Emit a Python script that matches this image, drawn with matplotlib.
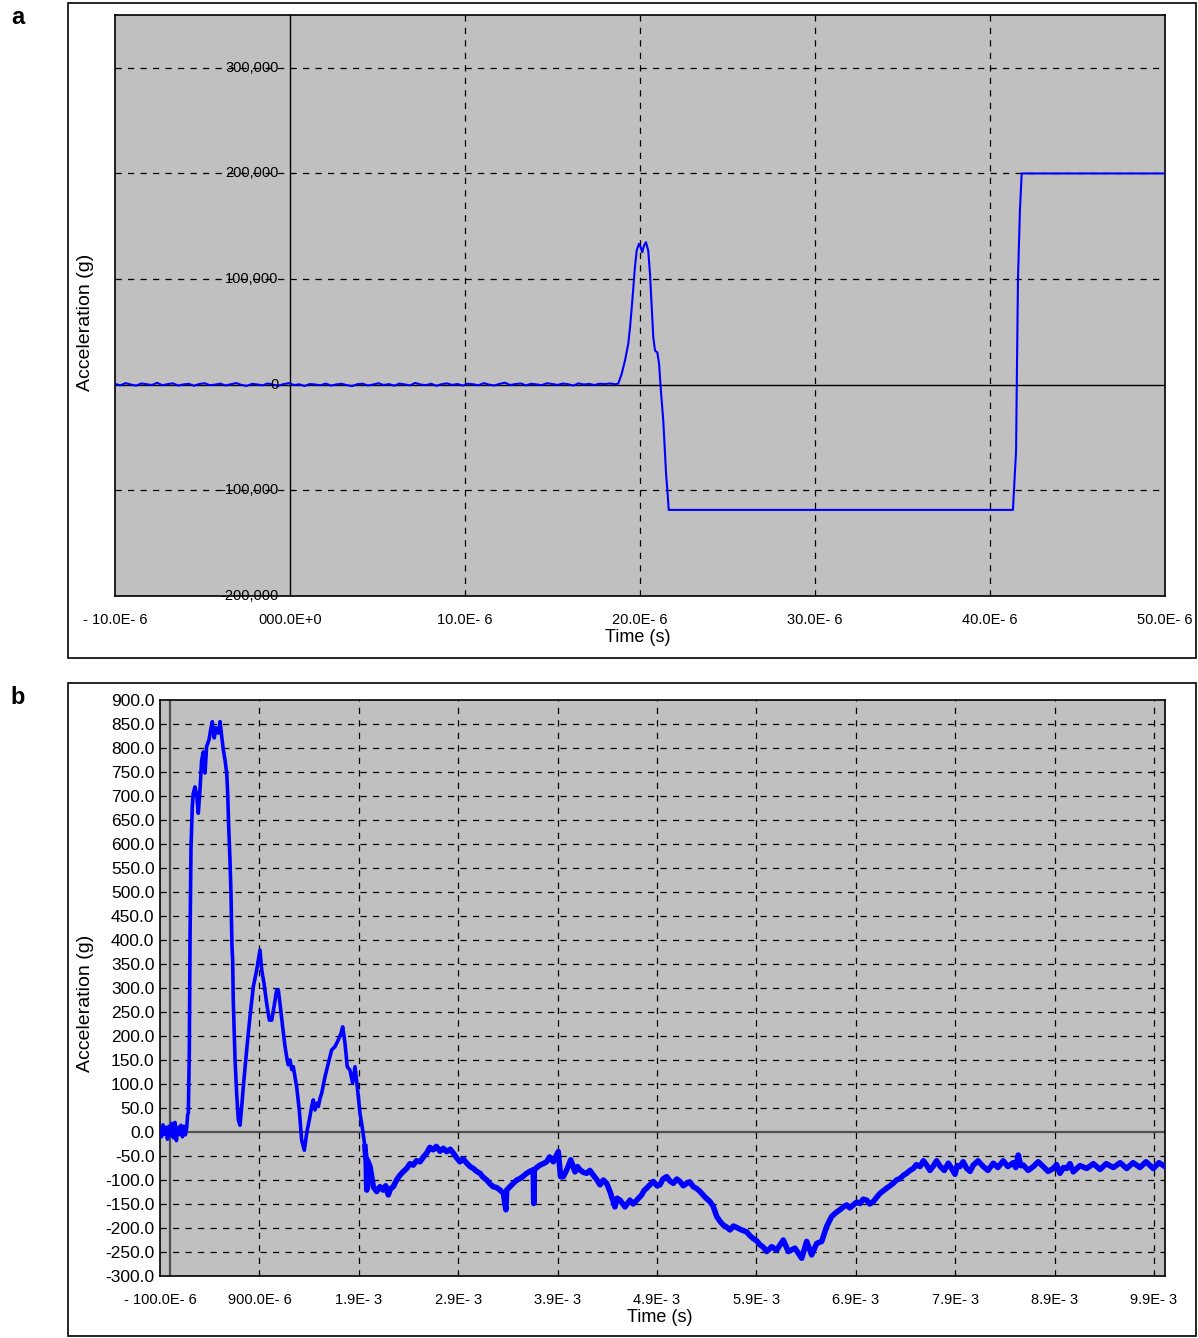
import numpy as np
import matplotlib.pyplot as plt
from matplotlib.patches import Rectangle

plt.rcParams['font.family'] = ['Liberation Sans', 'DejaVu Sans']

# ---------------- panel a data (time in microseconds, acceleration in g)
base_a = [800, -600, 1500, 200, -900, 1200, 400, -300, 1800, -500, 600, 1300, -800, 300,
          900, -1000, 700, 1400, -400, 100, 1000, -700, 500, 1600, -200, -1100, 800, 300,
          -600, 1200, 0, -900, 600, 1500, -300, 400, -1200, 700, 200, -500, 1100, -800,
          300, 900, -400, -1300, 500, 1000, -700, 200, 1400, -300, 600, -900, 1100, 300,
          -600, 1700, 200, -400, 900, -1000, 500, 1300, -200, 700, -800, 1000, 400, -500,
          1500, 100, -700, 800, 1900, -300, 600, 1200, -600, 900, 300, -400, 1400, 700,
          -200, 1100, 500, -800, 1300, 200, 800, -300, 1000, 600, 1200, 400]
pulse_t = [18.76, 18.95, 19.14, 19.33, 19.43, 19.53, 19.62, 19.71, 19.81, 19.94, 20.04,
           20.13, 20.23, 20.34, 20.47, 20.57, 20.67, 20.76, 20.86, 20.99, 21.09, 21.18,
           21.33, 21.43, 21.49, 21.58, 21.64, 41.31, 41.49, 41.53, 41.60, 41.71, 41.81, 50.0]
pulse_a = [1200, 10100, 22700, 38900, 54300, 73300, 92200, 111200, 127000, 133400, 130100,
           125400, 131800, 134900, 127000, 105200, 73300, 44800, 32200, 30600, 19900, -2600,
           -34100, -65400, -84400, -103300, -118500, -118500, -62600, 950, 101400, 164900,
           200000, 200000]
xticks_a = [-10, 0, 10, 20, 30, 40, 50]
xlabels_a = ['- 10.0E- 6', '000.0E+0', '10.0E- 6', '20.0E- 6', '30.0E- 6', '40.0E- 6', '50.0E- 6']
yticks_a = [-200000, -100000, 0, 100000, 200000, 300000]
ylabels_a = ['-200,000', '-100,000', '0', '100,000', '200,000', '300,000']

# ---------------- panel b data (time in milliseconds, acceleration in g)
t_b = [-0.1, -0.085, -0.07, -0.055, -0.04, -0.025, -0.01, 0.005, 0.02, 0.035, 0.05, 0.065,
       0.08, 0.095, 0.11, 0.125, 0.14, 0.155, 0.168, 0.178, 0.185, 0.195, 0.202, 0.212,
       0.225, 0.235, 0.252, 0.269, 0.285, 0.302, 0.319, 0.336, 0.353, 0.369, 0.393, 0.410,
       0.426, 0.446, 0.463, 0.487, 0.504, 0.521, 0.537, 0.554, 0.571, 0.581, 0.591, 0.604,
       0.614, 0.624, 0.631, 0.637, 0.655, 0.671, 0.688, 0.705, 0.722, 0.738, 0.772, 0.805,
       0.839, 0.873, 0.906, 0.923, 0.946, 0.973, 1.0, 1.024, 1.047, 1.074, 1.09, 1.107,
       1.134, 1.158, 1.174, 1.19, 1.208, 1.225, 1.241, 1.275, 1.301, 1.325, 1.352, 1.376,
       1.402, 1.426, 1.442, 1.459, 1.476, 1.493, 1.51, 1.527, 1.56, 1.593, 1.627, 1.661,
       1.694, 1.72, 1.738, 1.761, 1.784, 1.811, 1.838, 1.862, 1.885, 1.912, 1.939, 1.962,
       1.975, 1.98, 1.985, 2.013, 2.046, 2.080, 2.113, 2.146, 2.17, 2.197, 2.22, 2.247,
       2.28, 2.314, 2.35, 2.382, 2.415, 2.448, 2.48, 2.516, 2.55, 2.583, 2.615, 2.649,
       2.68, 2.717, 2.75, 2.784, 2.82, 2.851, 2.885, 2.918, 2.95, 2.986, 3.02, 3.052,
       3.085, 3.119, 3.15, 3.187, 3.22, 3.253, 3.29, 3.321, 3.355, 3.38, 3.388, 3.42,
       3.454, 3.49, 3.522, 3.555, 3.589, 3.62, 3.655, 3.66, 3.665, 3.69, 3.723, 3.755,
       3.790, 3.82, 3.857, 3.907, 3.93, 3.957, 3.992, 4.032, 4.075, 4.1, 4.125, 4.16,
       4.193, 4.225, 4.259, 4.29, 4.327, 4.36, 4.394, 4.427, 4.477, 4.5, 4.528, 4.578,
       4.628, 4.66, 4.696, 4.746, 4.77, 4.796, 4.83, 4.863, 4.9, 4.930, 4.96, 4.997,
       5.03, 5.064, 5.1, 5.131, 5.165, 5.199, 5.23, 5.265, 5.3, 5.333, 5.38, 5.433,
       5.466, 5.501, 5.534, 5.567, 5.6, 5.634, 5.67, 5.702, 5.75, 5.802, 5.835, 5.869,
       5.9, 5.936, 5.97, 6.004, 6.054, 6.104, 6.171, 6.221, 6.288, 6.356, 6.406, 6.456,
       6.507, 6.557, 6.607, 6.657, 6.7, 6.741, 6.775, 6.808, 6.84, 6.875, 6.91, 6.942,
       6.975, 7.010, 7.04, 7.076, 7.11, 7.143, 7.18, 7.211, 7.245, 7.277, 7.31, 7.345,
       7.38, 7.412, 7.445, 7.479, 7.51, 7.546, 7.58, 7.613, 7.646, 7.680, 7.713, 7.747,
       7.79, 7.831, 7.865, 7.898, 7.92, 7.948, 7.98, 8.016, 8.05, 8.082, 8.13, 8.183,
       8.23, 8.283, 8.33, 8.384, 8.43, 8.484, 8.51, 8.535, 8.56, 8.585, 8.635, 8.686,
       8.735, 8.786, 8.835, 8.887, 8.92, 8.954, 8.99, 9.022, 9.055, 9.088, 9.155, 9.223,
       9.29, 9.357, 9.42, 9.491, 9.56, 9.625, 9.69, 9.759, 9.82, 9.893, 9.95, 10.011]
acc_b = [5, -10, 15, -5, 10, -15, 12, -8, 18, -12, 20, -18, 10, -5, 14, -10, 12, -6, 8, 35,
         40, 170, 400, 594, 678, 706, 719, 702, 664, 712, 775, 792, 748, 803, 817, 838,
         855, 821, 842, 831, 855, 824, 796, 775, 748, 706, 636, 567, 498, 386, 358, 275,
         150, 81, 25, 14, 53, 94, 171, 240, 303, 338, 379, 338, 310, 268, 233, 233, 261,
         296, 296, 268, 219, 178, 157, 140, 150, 130, 136, 94, 46, -17, -38, -2, 25, 53, 67,
         46, 60, 53, 70, 81, 115, 143, 171, 178, 192, 205, 219, 185, 136, 129, 102, 136,
         94, 39, 4, -31, -65, -121, -58, -72, -114, -124, -114, -121, -112, -131, -118,
         -114, -100, -90, -82, -76, -66, -69, -60, -62, -52, -44, -32, -37, -30, -40, -34,
         -41, -36, -44, -54, -62, -56, -65, -72, -76, -82, -86, -94, -100, -108, -114,
         -116, -121, -128, -162, -121, -114, -107, -100, -97, -92, -86, -82, -79, -149,
         -79, -74, -69, -66, -62, -52, -62, -41, -93, -93, -79, -58, -83, -72, -79, -84,
         -86, -80, -90, -98, -110, -100, -107, -124, -156, -138, -142, -156, -142, -150,
         -142, -131, -122, -117, -110, -103, -112, -110, -98, -93, -102, -107, -98, -103,
         -112, -107, -104, -114, -118, -124, -135, -145, -155, -176, -186, -194, -198,
         -204, -196, -199, -204, -208, -216, -222, -226, -235, -240, -249, -239, -246,
         -225, -249, -242, -263, -228, -256, -232, -228, -197, -176, -168, -162, -156,
         -152, -158, -152, -146, -149, -140, -142, -150, -145, -136, -128, -122, -117,
         -112, -107, -100, -97, -90, -86, -80, -76, -68, -72, -60, -69, -80, -71, -60,
         -71, -80, -65, -76, -88, -70, -72, -62, -76, -82, -69, -60, -72, -80, -65, -74,
         -60, -72, -64, -74, -48, -70, -69, -80, -72, -62, -72, -82, -76, -68, -86, -74,
         -76, -66, -83, -70, -76, -66, -78, -66, -74, -64, -76, -64, -74, -62, -76, -64, -72]
xticks_b = [-0.1, 0.9, 1.9, 2.9, 3.9, 4.9, 5.9, 6.9, 7.9, 8.9, 9.9]
xlabels_b = ['- 100.0E- 6', '900.0E- 6', '1.9E- 3', '2.9E- 3', '3.9E- 3', '4.9E- 3',
             '5.9E- 3', '6.9E- 3', '7.9E- 3', '8.9E- 3', '9.9E- 3']
yticks_b = list(range(-300, 901, 50))

W, H = 1198, 1338
fig = plt.figure(figsize=(W / 100, H / 100), dpi=100)


def frac(x0, y0, x1, y1):
    return [x0 / W, 1 - y1 / H, (x1 - x0) / W, (y1 - y0) / H]


# outer frames
for y0, y1 in [(3, 658), (683, 1336)]:
    fig.patches.append(Rectangle((68 / W, 1 - y1 / H), (1196 - 68) / W, (y1 - y0) / H,
                                 transform=fig.transFigure, fill=False, lw=1.2,
                                 edgecolor='black'))

fig.text(18 / W, 1 - 18 / H, 'a', fontsize=17, fontweight='bold', ha='center', va='center')
fig.text(18 / W, 1 - 697 / H, 'b', fontsize=17, fontweight='bold', ha='center', va='center')

grid_kw = dict(color='black', lw=0.9, linestyle=(0, (5, 5)), zorder=1)

# ---------------- panel a
ax1 = fig.add_axes(frac(115, 15, 1165, 596))
ax1.set_facecolor('#c0c0c0')
t_a = np.concatenate([np.linspace(-10.0, 18.6, len(base_a)), pulse_t])
a_a = np.concatenate([base_a, pulse_a])
ax1.plot(t_a, a_a, color='#0000ff', lw=1.5, zorder=3)
ax1.set_xlim(-10, 50)
ax1.set_ylim(-200000, 350000)
for x in xticks_a[2:-1]:
    ax1.axvline(x, **grid_kw)
for y in [-100000, 100000, 200000, 300000]:
    ax1.axhline(y, **grid_kw)
ax1.axvline(0, color='black', lw=1, zorder=2)
ax1.axhline(0, color='black', lw=1, zorder=2)
ax1.set_xticks(xticks_a)
ax1.set_xticklabels(xlabels_a, fontsize=10.5)
ax1.set_yticks([])
ax1.tick_params(axis='x', length=0, pad=12)
for y, lab in zip(yticks_a, ylabels_a):
    ax1.text(-0.65, y, lab, ha='right', va='center', fontsize=10.5, zorder=4)
for s in ax1.spines.values():
    s.set_linewidth(1.2)
fig.text(638 / W, 1 - 638 / H, 'Time (s)', fontsize=13, ha='center', va='center')
fig.text(86 / W, 1 - 322 / H, 'Acceleration (g)', fontsize=14, rotation=90,
         ha='center', va='center')

# ---------------- panel b
ax2 = fig.add_axes(frac(160, 700, 1165, 1276))
ax2.set_facecolor('#c0c0c0')
# the signal gets a wider noise band after the first 2 ms
split = t_b.index(1.962)
ax2.plot(t_b[:split + 1], acc_b[:split + 1], color='#0000ff', lw=2.6, zorder=3)
ax2.plot(t_b[split:], acc_b[split:], color='#0000ff', lw=4.0, zorder=3,
         solid_joinstyle='round')
ax2.set_xlim(-0.1, 10.011)
ax2.set_ylim(-300, 900)
for x in xticks_b[1:]:
    ax2.axvline(x, **grid_kw)
for y in yticks_b[1:-1]:
    if y != 0:
        ax2.axhline(y, **grid_kw)
ax2.axvline(0, color='#505050', lw=1.6, zorder=2)
ax2.axhline(0, color='#505050', lw=1.6, zorder=2)
ax2.set_xticks(xticks_b)
ax2.set_xticklabels(xlabels_b, fontsize=10.5)
ax2.set_yticks(yticks_b)
ax2.set_yticklabels(['%.1f' % v for v in yticks_b], fontsize=12.5)
ax2.tick_params(axis='x', length=0, pad=12)
ax2.tick_params(axis='y', length=0, pad=4)
for s in ax2.spines.values():
    s.set_linewidth(1.2)
fig.text(660 / W, 1 - 1318 / H, 'Time (s)', fontsize=13, ha='center', va='center')
fig.text(86 / W, 1 - 1003 / H, 'Acceleration (g)', fontsize=14, rotation=90,
         ha='center', va='center')

fig.savefig('out.png', dpi=100)
